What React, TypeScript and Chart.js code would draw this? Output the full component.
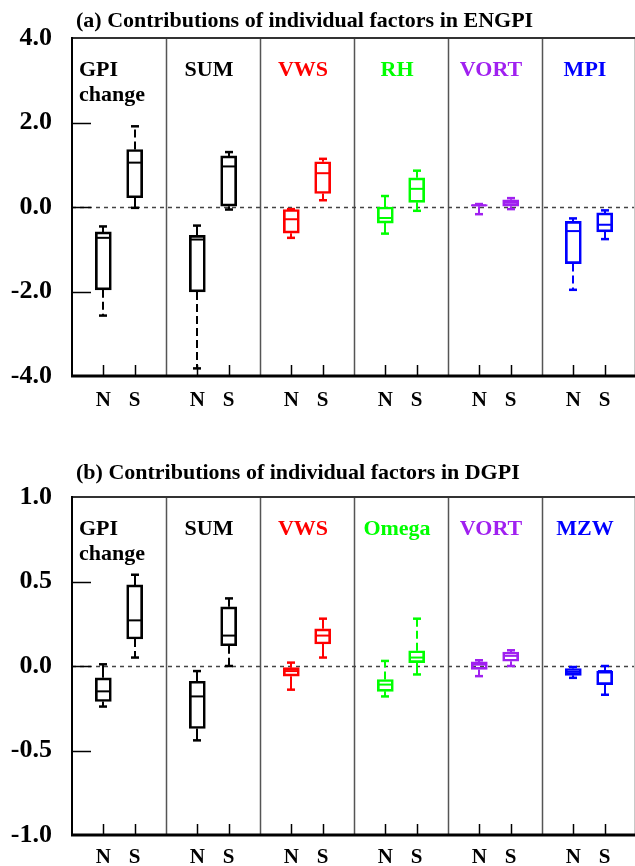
import React, { useEffect, useRef } from 'react';
import { Chart, registerables } from 'chart.js';

Chart.register(...registerables);

// ---------- data ----------
const hemispheres = ['N', 'S'];
const groupColors = ['#000000', '#000000', '#ff0000', '#00ff00', '#a020f0', '#0000ff'];

const titleA = '(a) Contributions of individual factors in ENGPI';
const groupsA = ['GPI\nchange', 'SUM', 'VWS', 'RH', 'VORT', 'MPI'];
// order: GPI N, GPI S, SUM N, SUM S, VWS N, VWS S, RH N, RH S, VORT N, VORT S, MPI N, MPI S
const aMax = [-0.46, 1.91, -0.44, 1.3, -0.05, 1.14, 0.26, 0.86, 0.07, 0.21, -0.27, -0.08];
const aQ3 = [-0.59, 1.36, -0.67, 1.21, -0.06, 1.07, 0.0, 0.69, 0.06, 0.17, -0.34, -0.14];
const aMed = [-0.73, 1.05, -0.77, 0.96, -0.29, 0.8, -0.26, 0.43, 0.04, 0.1, -0.57, -0.42];
const aQ1 = [-1.96, 0.22, -2.01, 0.02, -0.62, 0.32, -0.38, 0.11, 0.02, 0.02, -1.34, -0.59];
const aMin = [-2.57, -0.02, -3.82, -0.06, -0.73, 0.16, -0.63, -0.09, -0.17, -0.05, -1.96, -0.76];
const aYTicks = { min: -4, max: 4, step: 2 };

const titleB = '(b) Contributions of individual factors in DGPI';
const groupsB = ['GPI\nchange', 'SUM', 'VWS', 'Omega', 'VORT', 'MZW'];
const bMax = [0.01, 0.54, -0.03, 0.4, 0.02, 0.28, 0.03, 0.28, 0.034, 0.093, -0.006, 0.0];
const bQ3 = [-0.07, 0.48, -0.09, 0.35, -0.01, 0.22, -0.08, 0.09, 0.024, 0.083, -0.015, -0.03];
const bMed = [-0.15, 0.27, -0.18, 0.18, -0.03, 0.18, -0.11, 0.05, 0.008, 0.06, -0.035, -0.03];
const bQ1 = [-0.21, 0.16, -0.37, 0.12, -0.06, 0.13, -0.15, 0.02, -0.02, 0.028, -0.055, -0.11];
const bMin = [-0.24, 0.05, -0.44, 0.0, -0.14, 0.05, -0.18, -0.05, -0.06, 0.0, -0.07, -0.17];
const bYTicks = { min: -1, max: 1, step: 0.5 };

// ---------- helpers ----------
const FONT = '"Liberation Serif", "Times New Roman", serif';
const xOf = (i: number) => 3 * Math.floor(i / 2) + 1 + (i % 2);
const colorOf = (i: number) => groupColors[Math.floor(i / 2)];

type Spec = {
  title: string;
  groups: string[];
  max: number[];
  q3: number[];
  med: number[];
  q1: number[];
  min: number[];
  yt: { min: number; max: number; step: number };
  padTop: number;
  xAxisH: number;
  titleBase: number;
  xPad: number;
};

const panelA: Spec = {
  title: titleA, groups: groupsA, max: aMax, q3: aQ3, med: aMed, q1: aQ1, min: aMin,
  yt: aYTicks, padTop: 38, xAxisH: 57, titleBase: 27, xPad: 4,
};
const panelB: Spec = {
  title: titleB, groups: groupsB, max: bMax, q3: bQ3, med: bMed, q1: bQ1, min: bMin,
  yt: bYTicks, padTop: 64, xAxisH: 31, titleBase: 46, xPad: 2,
};

function line(ctx: CanvasRenderingContext2D, x1: number, y1: number, x2: number, y2: number) {
  ctx.beginPath();
  ctx.moveTo(x1, y1);
  ctx.lineTo(x2, y2);
  ctx.stroke();
}

function makePlugin(spec: Spec) {
  return {
    id: 'boxExtras',
    beforeDatasetsDraw(chart: any) {
      const { ctx, chartArea: ca, scales } = chart;
      const x = scales.x;
      const y = scales.y;
      ctx.save();
      // group separators
      ctx.strokeStyle = '#555555';
      ctx.lineWidth = 1.5;
      for (let g = 1; g < spec.groups.length; g++) {
        const px = Math.round(x.getPixelForValue(3 * g)) + 0.5;
        line(ctx, px, ca.top, px, ca.bottom);
      }
      // zero line
      ctx.setLineDash([4, 4]);
      ctx.strokeStyle = '#444444';
      const y0 = Math.round(y.getPixelForValue(0)) + 0.5;
      line(ctx, ca.left, y0, ca.right, y0);
      ctx.setLineDash([]);
      // inner tick marks
      ctx.strokeStyle = '#000000';
      ctx.lineWidth = 1.5;
      y.ticks.forEach((t: any) => {
        if (t.value > spec.yt.min && t.value < spec.yt.max) {
          const py = Math.round(y.getPixelForValue(t.value)) + 0.5;
          line(ctx, ca.left, py, ca.left + 19, py);
        }
      });
      x.ticks.forEach((t: any) => {
        const px = Math.round(x.getPixelForValue(t.value)) + 0.5;
        line(ctx, px, ca.bottom, px, ca.bottom - 11);
      });
      ctx.restore();
    },
    afterDatasetsDraw(chart: any) {
      const { ctx, scales } = chart;
      const x = scales.x;
      const y = scales.y;
      ctx.save();
      for (let i = 0; i < spec.med.length; i++) {
        const px = Math.round(x.getPixelForValue(xOf(i)));
        ctx.strokeStyle = colorOf(i);
        ctx.lineWidth = 2;
        const yMed = y.getPixelForValue(spec.med[i]);
        line(ctx, px - 7, yMed, px + 7, yMed);
        const pairs: [number, number][] = [
          [spec.q3[i], spec.max[i]],
          [spec.q1[i], spec.min[i]],
        ];
        pairs.forEach(([from, to]) => {
          const ya = y.getPixelForValue(from);
          const yb = y.getPixelForValue(to);
          ctx.lineWidth = 2;
          ctx.setLineDash(Math.abs(yb - ya) > 15 ? [8, 4] : []);
          line(ctx, px, ya, px, yb);
          ctx.setLineDash([]);
          ctx.lineWidth = 2.5;
          line(ctx, px - 4, yb, px + 4, yb);
        });
      }
      ctx.restore();
    },
    afterDraw(chart: any) {
      const { ctx, chartArea: ca, scales } = chart;
      const x = scales.x;
      ctx.save();
      // frame
      ctx.strokeStyle = '#c8c8c8';
      ctx.lineWidth = 1;
      line(ctx, ca.right - 1.5, ca.top, ca.right - 1.5, ca.bottom);
      ctx.strokeStyle = '#333333';
      ctx.lineWidth = 2;
      line(ctx, ca.left, ca.top, ca.right, ca.top);
      ctx.strokeStyle = '#000000';
      line(ctx, ca.left, ca.top - 1, ca.left, ca.bottom);
      ctx.lineWidth = 3;
      line(ctx, ca.left - 1, ca.bottom, ca.right, ca.bottom);
      // title
      ctx.fillStyle = '#000000';
      ctx.font = `bold 22px ${FONT}`;
      ctx.textBaseline = 'alphabetic';
      ctx.textAlign = 'left';
      ctx.fillText(spec.title, ca.left + 4, spec.titleBase);
      // group labels
      spec.groups.forEach((label, g) => {
        ctx.fillStyle = groupColors[g];
        const lines = label.split('\n');
        if (lines.length > 1) {
          ctx.textAlign = 'left';
          const lx = x.getPixelForValue(3 * g) + 7;
          lines.forEach((t, k) => ctx.fillText(t, lx, ca.top + 38 + k * 25));
        } else {
          ctx.textAlign = 'center';
          const cx = x.getPixelForValue(3 * g + 1.5) - 4;
          ctx.fillText(label, cx, ca.top + 38);
        }
      });
      ctx.restore();
    },
  };
}

function buildConfig(spec: Spec): any {
  const n = spec.med.length;
  const idx = Array.from({ length: n }, (_, i) => i);
  const tickVals = idx.map(xOf);
  return {
    type: 'bar',
    data: {
      datasets: [
        {
          data: idx.map((i) => ({ x: xOf(i), y: [spec.q1[i], spec.q3[i]] })),
          backgroundColor: 'rgba(0,0,0,0)',
          borderColor: idx.map(colorOf),
          borderWidth: 2,
          borderSkipped: false,
          barThickness: 16,
        },
      ],
    },
    options: {
      responsive: false,
      animation: false,
      events: [],
      layout: { padding: { top: spec.padTop, left: 0, right: 0, bottom: 0 } },
      plugins: { legend: { display: false }, title: { display: false }, tooltip: { enabled: false } },
      scales: {
        x: {
          type: 'linear',
          min: 0,
          max: 18,
          offset: false,
          grid: { display: false },
          border: { display: false },
          afterBuildTicks: (scale: any) => {
            scale.ticks = tickVals.map((v) => ({ value: v }));
          },
          afterFit: (scale: any) => {
            scale.height = spec.xAxisH;
          },
          ticks: {
            autoSkip: false,
            maxRotation: 0,
            padding: spec.xPad,
            color: '#000000',
            font: { family: FONT, size: 21, weight: 'bold' },
            callback: (v: number) => hemispheres[Math.round(v) % 3 - 1] ?? '',
          },
        },
        y: {
          min: spec.yt.min,
          max: spec.yt.max,
          grid: { display: false },
          border: { display: false },
          afterFit: (scale: any) => {
            scale.width = 72;
          },
          ticks: {
            stepSize: spec.yt.step,
            padding: 12,
            color: '#000000',
            font: { family: FONT, size: 26, weight: 'bold' },
            callback: (v: number) => Number(v).toFixed(1),
          },
        },
      },
    },
    plugins: [makePlugin(spec)],
  };
}

function Panel({ spec }: { spec: Spec }) {
  const ref = useRef<HTMLCanvasElement>(null);
  useEffect(() => {
    if (!ref.current) return;
    const chart = new Chart(ref.current, buildConfig(spec));
    return () => chart.destroy();
  }, [spec]);
  return <canvas ref={ref} width={636} height={433} style={{ display: 'block' }} />;
}

export default function App() {
  return (
    <div
      style={{
        position: 'absolute',
        left: 0,
        top: 0,
        width: 635,
        height: 866,
        overflow: 'hidden',
        background: '#ffffff',
      }}
    >
      <Panel spec={panelA} />
      <Panel spec={panelB} />
    </div>
  );
}
